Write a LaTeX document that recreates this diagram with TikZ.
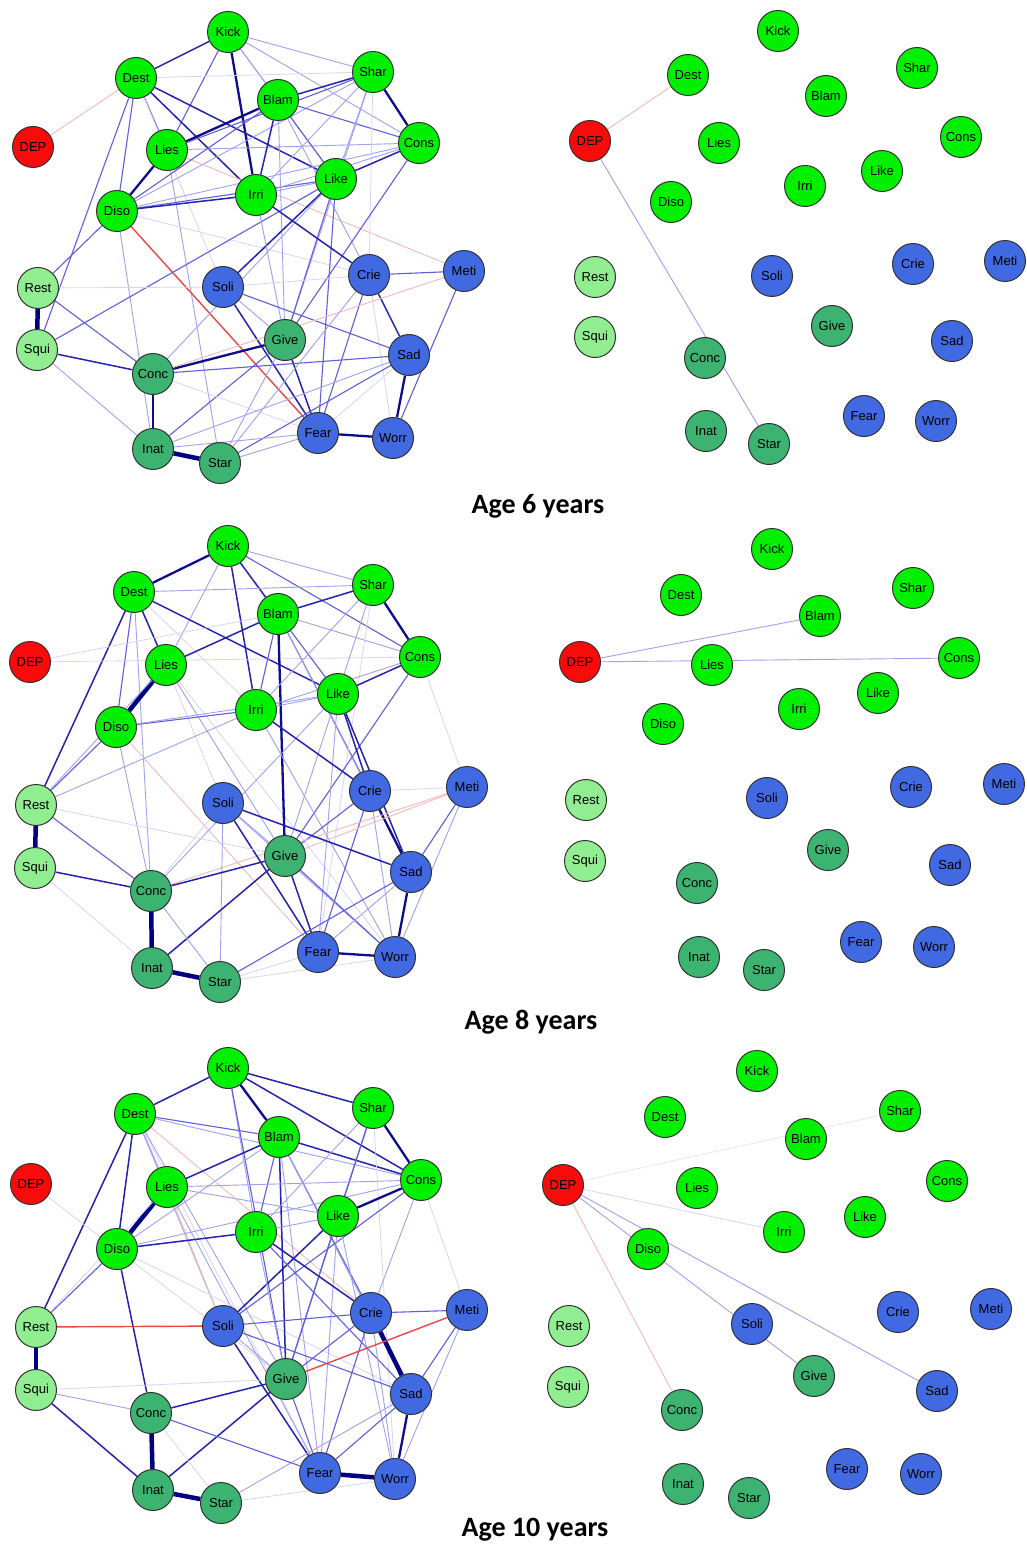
\documentclass[tikz,border=0pt]{standalone}
\usepackage{fontspec}
\setmainfont{Liberation Sans}
\newfontfamily\capfont{Carlito}
\pgfdeclarelayer{bg}
\pgfsetlayers{bg,main}
\definecolor{cG}{RGB}{0,240,0}
\definecolor{cL}{RGB}{144,238,144}
\definecolor{cD}{RGB}{60,179,113}
\definecolor{cB}{RGB}{65,105,225}
\definecolor{cR}{RGB}{250,10,10}
\definecolor{ndb}{RGB}{50,50,50}
\definecolor{ec1}{RGB}{212,212,250}
\definecolor{ec2}{RGB}{160,160,242}
\definecolor{ec3}{RGB}{95,95,222}
\definecolor{ec4}{RGB}{35,35,175}
\definecolor{ec5}{RGB}{12,12,140}
\definecolor{ec6}{RGB}{0,0,130}
\definecolor{rc0}{RGB}{245,225,230}
\definecolor{rc1}{RGB}{245,185,185}
\definecolor{rc2}{RGB}{235,70,70}
\begin{document}
\begin{tikzpicture}[x={(1pt,0pt)},y={(0pt,-1pt)},
  nd/.style={circle,draw=ndb,line width=1pt,minimum size=41pt,inner sep=0pt,
    font=\fontsize{13}{13}\selectfont},
  e1/.style={draw=ec1,line width=0.8pt},
  e2/.style={draw=ec2,line width=0.9pt},
  e3/.style={draw=ec3,line width=1.1pt},
  e4/.style={draw=ec4,line width=1.5pt},
  e5/.style={draw=ec5,line width=2.3pt},
  e6/.style={draw=ec6,line width=4.5pt},
  r0/.style={draw=rc0,line width=0.8pt},
  r1/.style={draw=rc1,line width=0.9pt},
  r2/.style={draw=rc2,line width=1.4pt},
  captxt/.style={font=\capfont\bfseries\fontsize{28}{28}\selectfont}]
\useasboundingbox (0,0) rectangle (1026,1562);
\begin{pgfonlayer}{bg}
\fill[white] (0,0) rectangle (1026,1562);
\end{pgfonlayer}

% ---------- Age 6, left ----------
\foreach \n/\x/\y/\c in {Kick/228/32/cG,Dest/136/78/cG,Shar/373/72/cG,Blam/278/100/cG,
  Lies/167/150/cG,Cons/419/143/cG,DEP/33/147/cR,Irri/256/195/cG,Like/336/179/cG,
  Diso/117/211/cG,Rest/38/288/cL,Soli/223/287/cB,Crie/369/275/cB,Meti/464/271/cB,
  Give/285/340/cD,Squi/37/350/cL,Sad/409/355/cB,Conc/153/374/cD,Inat/153/449/cD,
  Star/220/463/cD,Fear/318/433/cB,Worr/393/438/cB}
  \node[nd,fill=\c] (a\n) at (\x,\y) {\n};
\begin{pgfonlayer}{bg}
\foreach \u/\v/\w in {Kick/Dest/e4,Kick/Lies/e3,Kick/Irri/e5,Kick/Blam/e2,Kick/Shar/e2,
  Kick/Cons/e2,Kick/Like/e2,Dest/DEP/r1,Dest/Lies/e3,Dest/Diso/e3,Dest/Irri/e4,
  Dest/Like/e4,Dest/Shar/e1,Dest/Squi/e3,Dest/Soli/e1,Lies/Blam/e5,Lies/Diso/e5,
  Lies/Shar/e3,Lies/Meti/r1,Lies/Star/e2,Lies/Cons/e2,Diso/Blam/e3,Diso/Like/e3,
  Diso/Irri/e4,Diso/Shar/e2,Diso/Cons/e2,Diso/Fear/r2,Diso/Rest/e3,Diso/Inat/e2,
  Diso/Crie/e1,Blam/Shar/e4,Blam/Cons/e3,Blam/Irri/e4,Blam/Like/e3,Blam/Crie/e2,
  Blam/Give/e2,Shar/Cons/e5,Shar/Like/e2,Shar/Irri/e2,Shar/Crie/e1,Shar/Give/e2,
  Cons/Like/e4,Cons/Irri/e2,Cons/Give/e3,Like/Irri/e2,Like/Soli/e4,Like/Give/e3,
  Like/Fear/e3,Like/Conc/e2,Squi/Like/e3,Irri/Crie/e4,Irri/Give/e2,Crie/Meti/e3,
  Crie/Sad/e4,Crie/Fear/e3,Crie/Worr/e1,Soli/Sad/e3,Soli/Fear/e4,Soli/Give/e2,
  Soli/Crie/e1,Give/Conc/e5,Give/Fear/e4,Give/Inat/e3,Conc/Meti/r1,Sad/Worr/e5,
  Sad/Conc/e3,Sad/Star/e3,Sad/Fear/e1,Meti/Worr/e3,Fear/Worr/e5,Fear/Star/e2,
  Fear/Inat/e2,Fear/Conc/e1,Inat/Star/e6,Inat/Conc/e5,Inat/Squi/e2,Rest/Squi/e6,
  Rest/Conc/e3,Squi/Conc/e4,Rest/Soli/e1,Star/Crie/e2,Inat/Sad/e2,Star/Give/e2}
  \draw[\w] (a\u) -- (a\v);
\end{pgfonlayer}

% ---------- Age 6, right ----------
\foreach \n/\x/\y/\c in {Kick/778/31/cG,Dest/688/75/cG,Shar/917/68/cG,Blam/826/96/cG,
  Lies/719/143/cG,Cons/961/137/cG,DEP/590/141/cR,Irri/805/186/cG,Like/882/171/cG,
  Diso/671/202/cG,Rest/595/277/cL,Soli/772/276/cB,Crie/913/264/cB,Meti/1005/261/cB,
  Give/832/326/cD,Squi/595/337/cL,Sad/952/341/cB,Conc/705/358/cD,Inat/706/431/cD,
  Star/769/444/cD,Fear/864/416/cB,Worr/936/421/cB}
  \node[nd,fill=\c] (b\n) at (\x,\y) {\n};
\begin{pgfonlayer}{bg}
\foreach \u/\v/\w in {DEP/Dest/r1,DEP/Star/e2}
  \draw[\w] (b\u) -- (b\v);
\end{pgfonlayer}
\node[captxt] (t6) at (538,506) {Age 6 years};

% ---------- Age 8, left ----------
\foreach \n/\x/\y/\c in {Kick/228/546/cG,Dest/134/592/cG,Shar/373/585/cG,Blam/278/614/cG,
  Lies/166/665/cG,Cons/420/657/cG,DEP/30/662/cR,Irri/256/710/cG,Like/338/694/cG,
  Diso/116/727/cG,Rest/36/805/cL,Soli/223/803/cB,Crie/370/791/cB,Meti/467/787/cB,
  Give/285/856/cD,Squi/35/868/cL,Sad/411/872/cB,Conc/151/891/cD,Inat/152/968/cD,
  Star/220/982/cD,Fear/318/952/cB,Worr/395/957/cB}
  \node[nd,fill=\c] (c\n) at (\x,\y) {\n};
\begin{pgfonlayer}{bg}
\foreach \u/\v/\w in {Kick/Dest/e5,Kick/Lies/e2,Kick/Irri/e4,Kick/Blam/e4,Kick/Shar/e2,
  Kick/Cons/e3,Dest/Shar/e2,Dest/Lies/e4,Dest/Diso/e3,Dest/Rest/e4,Dest/Like/e4,
  Dest/Irri/e1,Dest/Conc/e2,DEP/Blam/e1,DEP/Cons/e1,Lies/Blam/e4,Lies/Diso/e6,
  Lies/Give/e2,Lies/Worr/e1,Lies/Soli/e1,Diso/Irri/e3,Diso/Rest/e3,Diso/Conc/e2,
  Diso/Like/e2,Diso/Fear/r1,Blam/Shar/e4,Blam/Irri/e3,Blam/Give/e5,Blam/Like/e3,
  Blam/Crie/e3,Blam/Cons/e2,Blam/Sad/e2,Shar/Cons/e5,Shar/Irri/e2,Shar/Give/e2,
  Shar/Fear/e1,Cons/Like/e4,Cons/Give/e3,Cons/Irri/e2,Cons/Meti/e1,Like/Irri/e2,
  Like/Crie/e4,Like/Sad/e4,Like/Fear/e2,Like/Conc/e2,Irri/Crie/e4,Irri/Rest/e2,
  Irri/Worr/e2,Crie/Sad/e5,Crie/Give/e3,Crie/Fear/e3,Crie/Meti/e1,Crie/Worr/e2,
  Meti/Conc/r1,Meti/Give/r1,Meti/Sad/e3,Meti/Worr/e2,Soli/Sad/e4,Soli/Fear/e4,
  Soli/Star/e2,Soli/Worr/e2,Soli/Give/e2,Soli/Conc/e1,Give/Conc/e4,Give/Inat/e4,
  Give/Fear/e4,Give/Worr/e3,Give/Rest/e1,Sad/Worr/e5,Sad/Star/e3,Sad/Fear/e2,
  Fear/Worr/e5,Fear/Star/e1,Star/Worr/e1,Conc/Inat/e6,Conc/Squi/e4,Conc/Rest/e3,
  Conc/Star/e2,Inat/Star/e6,Inat/Squi/e1,Rest/Squi/e6,Rest/Lies/e2}
  \draw[\w] (c\u) -- (c\v);
\end{pgfonlayer}

% ---------- Age 8, right ----------
\foreach \n/\x/\y/\c in {Kick/772/549/cG,Dest/681/595/cG,Shar/913/588/cG,Blam/820/616/cG,
  Lies/712/665/cG,Cons/959/658/cG,DEP/580/662/cR,Irri/799/709/cG,Like/878/693/cG,
  Diso/663/724/cG,Rest/586/800/cL,Soli/767/798/cB,Crie/911/787/cB,Meti/1004/784/cB,
  Give/828/850/cD,Squi/585/861/cL,Sad/950/865/cB,Conc/697/883/cD,Inat/699/957/cD,
  Star/764/970/cD,Fear/861/942/cB,Worr/934/947/cB}
  \node[nd,fill=\c] (d\n) at (\x,\y) {\n};
\begin{pgfonlayer}{bg}
\foreach \u/\v/\w in {DEP/Blam/e2,DEP/Cons/e2}
  \draw[\w] (d\u) -- (d\v);
\end{pgfonlayer}
\node[captxt] (t8) at (531,1022) {Age 8 years};

% ---------- Age 10, left ----------
\foreach \n/\x/\y/\c in {Kick/228/1068/cG,Dest/135/1114/cG,Shar/373/1108/cG,Blam/279/1137/cG,
  Lies/167/1187/cG,Cons/421/1180/cG,DEP/31/1184/cR,Irri/256/1232/cG,Like/338/1216/cG,
  Diso/117/1249/cG,Rest/36/1327/cL,Soli/223/1326/cB,Crie/371/1313/cB,Meti/467/1310/cB,
  Give/286/1379/cD,Squi/36/1390/cL,Sad/411/1394/cB,Conc/151/1413/cD,Inat/153/1490/cD,
  Star/221/1503/cD,Fear/320/1473/cB,Worr/395/1479/cB}
  \node[nd,fill=\c] (e\n) at (\x,\y) {\n};
\begin{pgfonlayer}{bg}
\foreach \u/\v/\w in {Kick/Dest/e4,Kick/Shar/e4,Kick/Blam/e5,Kick/Cons/e4,Kick/Irri/e2,
  Kick/Give/e3,Dest/Blam/e3,Dest/Cons/e2,Dest/Diso/e4,Dest/Rest/e4,Dest/Crie/r1,
  Dest/Lies/e2,Dest/Soli/e2,Dest/Give/e2,Dest/Fear/e1,DEP/Give/e1,Lies/Blam/e4,
  Lies/Diso/e6,Lies/Like/e2,Lies/Fear/e2,Lies/Soli/r1,Diso/Irri/e4,Diso/Blam/e2,
  Diso/Conc/e4,Diso/Rest/e3,Diso/Cons/e2,Diso/Sad/e1,Blam/Irri/e3,Blam/Cons/e4,
  Blam/Give/e4,Blam/Crie/e3,Blam/Sad/e2,Blam/Fear/e2,Shar/Cons/e5,Shar/Like/e3,
  Shar/Give/e3,Shar/Irri/e2,Shar/Worr/e1,Cons/Like/e5,Cons/Lies/e2,Cons/Soli/e3,
  Cons/Crie/e2,Cons/Meti/e1,Like/Irri/e2,Like/Soli/e4,Like/Give/e3,Like/Fear/e2,
  Like/Worr/e2,Irri/Crie/e4,Irri/Sad/e3,Irri/Give/e2,Crie/Sad/e6,Crie/Meti/e3,
  Crie/Soli/e3,Crie/Give/e3,Crie/Fear/e3,Crie/Worr/e2,Meti/Give/r2,Meti/Sad/e3,
  Meti/Worr/e2,Rest/Soli/r2,Rest/Squi/e6,Rest/Lies/e1,Soli/Sad/e3,Soli/Fear/e4,
  Soli/Give/e2,Give/Conc/e4,Give/Inat/e4,Give/Fear/e3,Sad/Worr/e5,Sad/Fear/e3,
  Sad/Star/e2,Fear/Worr/e6,Fear/Conc/e3,Star/Worr/e1,Conc/Inat/e6,Conc/Squi/e2,
  Conc/Star/e1,Inat/Star/e6,Inat/Squi/e4,Squi/Give/e1}
  \draw[\w] (e\u) -- (e\v);
\end{pgfonlayer}

% ---------- Age 10, right ----------
\foreach \n/\x/\y/\c in {Kick/757/1071/cG,Dest/665/1117/cG,Shar/900/1111/cG,Blam/806/1139/cG,
  Lies/697/1188/cG,Cons/947/1181/cG,DEP/563/1185/cR,Irri/784/1232/cG,Like/865/1217/cG,
  Diso/648/1249/cG,Rest/569/1326/cL,Soli/752/1324/cB,Crie/898/1312/cB,Meti/991/1309/cB,
  Give/814/1376/cD,Squi/568/1387/cL,Sad/937/1391/cB,Conc/682/1410/cD,Inat/683/1484/cD,
  Star/749/1498/cD,Fear/847/1469/cB,Worr/921/1474/cB}
  \node[nd,fill=\c] (f\n) at (\x,\y) {\n};
\begin{pgfonlayer}{bg}
\foreach \u/\v/\w in {DEP/Irri/e1,DEP/Give/e2,DEP/Sad/e2,DEP/Conc/r1,DEP/Shar/r0}
  \draw[\w] (f\u) -- (f\v);
\end{pgfonlayer}
\node[captxt] (t10) at (535,1530) {Age 10 years};
\end{tikzpicture}
\end{document}
